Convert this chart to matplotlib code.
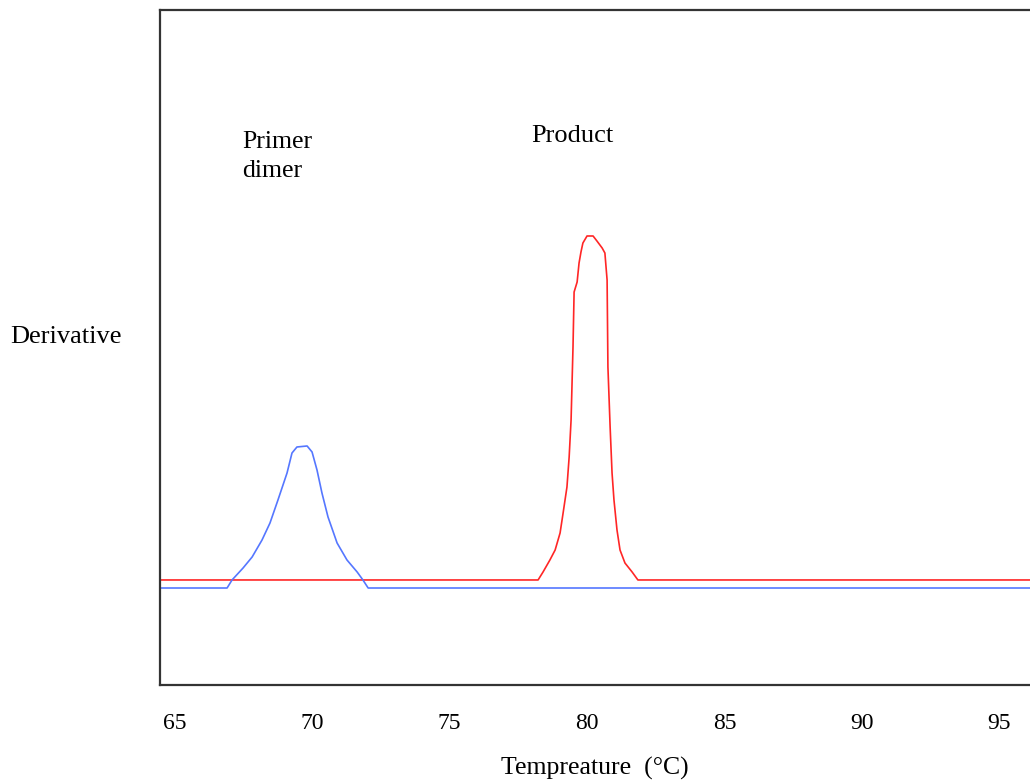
import matplotlib
matplotlib.use("Agg")
import matplotlib.pyplot as plt

plt.rcParams['font.family'] = ['Liberation Serif', 'DejaVu Serif']

# primer dimer melt peak (blue)
dimer_t = [64.47, 66.91, 67.09, 67.49, 67.82, 68.18, 68.47, 68.76, 69.09, 69.27,
           69.45, 69.82, 70.00, 70.18, 70.36, 70.58, 70.91, 71.27, 71.64, 71.85,
           72.04, 96.11]
dimer_d = [14.37, 14.37, 15.56, 17.33, 18.96, 21.48, 24.00, 27.41, 31.41, 34.37,
           35.26, 35.41, 34.52, 31.85, 28.44, 24.89, 21.04, 18.52, 16.74, 15.56,
           14.37, 14.37]

# product melt peak (red)
prod_t = [64.47, 78.22, 78.40, 78.65, 78.84, 79.02, 79.13, 79.27, 79.35, 79.42,
          79.49, 79.53, 79.64, 79.71, 79.78, 79.85, 80.00, 80.22, 80.36, 80.55,
          80.65, 80.73, 80.76, 80.84, 80.91, 80.98, 81.09, 81.20, 81.38, 81.64,
          81.85, 96.11]
prod_d = [15.56, 15.56, 16.74, 18.52, 20.00, 22.52, 25.48, 29.33, 33.78, 39.26,
          50.07, 58.22, 59.70, 62.52, 64.15, 65.48, 66.52, 66.52, 65.78, 64.74,
          64.00, 60.00, 47.11, 38.22, 31.41, 27.41, 22.96, 20.00, 18.07, 16.74,
          15.56, 15.56]

ticks = [65, 70, 75, 80, 85, 90, 95]

fig = plt.figure(figsize=(10.3, 7.82), dpi=100)
ax = fig.add_axes([160/1030, 97/782, 870/1030, 675/782])

ax.plot(prod_t, prod_d, color='#ff2626', lw=1.2)
ax.plot(dimer_t, dimer_d, color='#5577ff', lw=1.2)

ax.set_xlim(64.47, 96.11)
ax.set_ylim(0, 100)
ax.set_xticks(ticks)
ax.set_xticklabels([str(t) for t in ticks])
ax.set_yticks([])
ax.tick_params(axis='x', length=0, pad=20, labelsize=17)

for side in ['left', 'top', 'bottom']:
    ax.spines[side].set_color('#333333')
    ax.spines[side].set_linewidth(1.6)
ax.spines['right'].set_visible(False)

ax.set_xlabel('Tempreature  (°C)', fontsize=18.5, labelpad=17)
ax.set_ylabel('Derivative', rotation=0, fontsize=19, ha='left', va='center')
ax.yaxis.set_label_coords(-0.1724, 0.5156)

ax.text(67.45, 82.0, 'Primer\ndimer', fontsize=18.5, va='top', ha='left',
        linespacing=1.4)
ax.text(77.96, 83.0, 'Product', fontsize=19, va='top', ha='left')

fig.savefig('out.png', dpi=100)
